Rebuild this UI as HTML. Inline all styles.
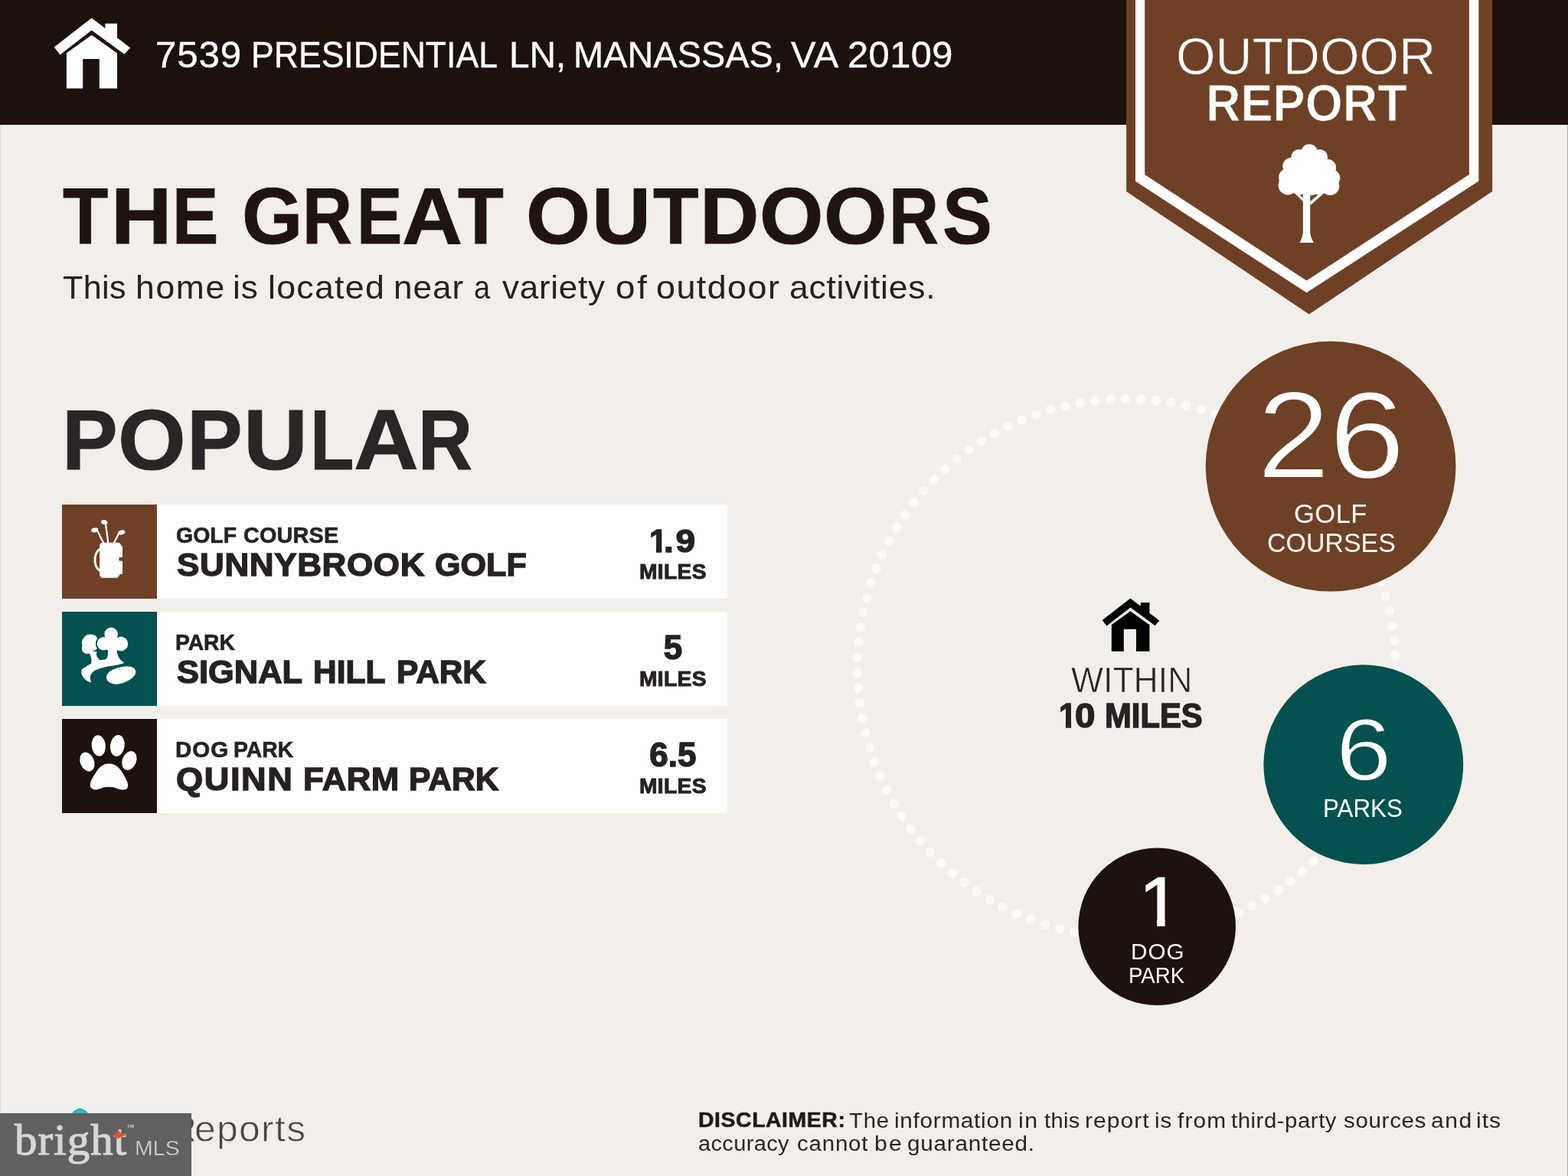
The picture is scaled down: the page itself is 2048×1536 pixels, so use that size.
<!DOCTYPE html>
<html lang="en">
<head>
<meta charset="utf-8">
<title>Outdoor Report - 7539 Presidential Ln, Manassas, VA 20109</title>
<style>
html,body{margin:0;padding:0;}
body{width:2048px;height:1536px;overflow:hidden;background:#f2eee9;font-family:"Liberation Sans",sans-serif;position:relative;}
.page{position:absolute;left:0;top:0;width:2048px;height:1536px;overflow:hidden;background:#f2eee9;}
.t{position:absolute;left:0;margin:0;padding:0;line-height:1;height:1em;width:2048px;white-space:pre;font-weight:400;pointer-events:none;}
.t span{position:absolute;top:0;left:0;transform-origin:0 0;}
.hdr{position:absolute;left:0;top:0;width:2048px;height:163px;background:#1d110d;}
.edge-l{position:absolute;left:0;top:163px;width:1px;height:1373px;background:#e2dcd9;}
.edge-r{position:absolute;right:0;top:163px;width:1px;height:1373px;background:#b3b0ad;}
svg.art{position:absolute;left:0;top:0;width:2048px;height:1536px;}
.row{position:absolute;left:81px;width:869px;height:123.5px;background:#fff;}
.row .ico{position:absolute;left:0;top:0;width:123.5px;height:123.5px;}
.r1{top:658.8px}.r2{top:798.8px}.r3{top:938.8px}
.brown{background:#6e4126}.teal{background:#04514f}.dark{background:#1e120e}
.wm{position:absolute;left:0;top:1454px;width:250px;height:82px;background:#606060;}
</style>
</head>
<body>
<div class="page">

<header class="hdr"></header>
<div class="edge-l"></div><div class="edge-r"></div>

<!-- list panels -->
<section>
<div class="row r1"><div class="ico brown"></div></div>
<div class="row r2"><div class="ico teal"></div></div>
<div class="row r3"><div class="ico dark"></div></div>
</section>

<svg class="art" viewBox="0 0 2048 1536">
  <!-- header house -->
  <g id="house" fill="#fff">
    <path d="M119.7 23.4 L137.4 37.1 L137.4 30.7 L153 30.7 L153 49.2 L170.2 62.5 L162.4 70.8 L119.7 39.6 L78.5 71.4 L70.7 61.5 Z"/>
    <path d="M119.7 45.8 L153 69.6 L153 115.6 L129.8 115.6 L129.8 77.1 L108.2 77.1 L108.2 115.6 L86.9 115.6 L86.9 69.3 Z"/>
  </g>

  <!-- badge -->
  <g id="badge">
    <path d="M1471.1 0 L1471.1 250 L1709.8 410.5 L1949.1 250 L1949.1 0 Z" fill="#6e4126"/>
    <path d="M1483 0 L1483 236.7 L1706.5 382.3 L1931.4 236.5 L1931.4 0 L1918.9 0 L1918.9 228 L1706.5 366.6 L1495.2 228 L1495.2 0 Z" fill="#fff"/>
    <!-- tree -->
    <g fill="#fff" transform="translate(1630,170) scale(0.1041667)">
      <path d="M690 800 L780 800 L780 1290 Q790 1360 825 1410 L648 1410 Q680 1360 690 1290 Z"/>
      <path d="M585 790 L610 770 L720 880 L700 905 Z"/>
      <path d="M900 790 L930 810 L790 935 L770 905 Z"/>
      <circle cx="770" cy="280" r="105"/><circle cx="640" cy="340" r="100"/><circle cx="900" cy="340" r="100"/>
      <circle cx="540" cy="450" r="105"/><circle cx="1000" cy="470" r="105"/>
      <circle cx="490" cy="590" r="105"/><circle cx="1050" cy="600" r="105"/>
      <circle cx="500" cy="690" r="120"/><circle cx="1030" cy="700" r="115"/>
      <circle cx="640" cy="700" r="110"/><circle cx="900" cy="700" r="110"/>
      <circle cx="770" cy="560" r="260"/>
    </g>
  </g>

  <!-- dotted ring -->
  <circle cx="1471.2" cy="872.5" r="351.5" fill="none" stroke="#fcfaf8" stroke-width="12.5" stroke-linecap="round" stroke-dasharray="0 19.8968" transform="rotate(-2.71 1471.2 872.5)"/>

  <!-- stat circles -->
  <circle cx="1738.1" cy="609.2" r="163.4" fill="#6e4126"/>
  <circle cx="1780.8" cy="998.6" r="130.4" fill="#04514f"/>
  <circle cx="1511.2" cy="1210.2" r="102.8" fill="#1e120e"/>

  <!-- centre house -->
  <g fill="#000" transform="translate(1386.6,763.9) scale(0.7505)">
    <path d="M119.7 23.4 L137.4 37.1 L137.4 30.7 L153 30.7 L153 49.2 L170.2 62.5 L162.4 70.8 L119.7 39.6 L78.5 71.4 L70.7 61.5 Z"/>
    <path d="M119.7 45.8 L153 69.6 L153 115.6 L129.8 115.6 L129.8 77.1 L108.2 77.1 L108.2 115.6 L86.9 115.6 L86.9 69.3 Z"/>
  </g>

  <!-- golf icon -->
  <g transform="translate(60,640) scale(0.15625)" fill="#fff" stroke="none">
    <path d="M470 440 H600 Q625 440 628 465 L640 470 V560 L610 565 V590 L640 595 V700 L615 705 Q610 735 580 735 H480 Q450 735 448 700 V480 Q448 440 470 440 Z"/>
    <path d="M455 490 Q405 520 410 600 Q415 650 450 675" fill="none" stroke="#fff" stroke-width="18" stroke-linecap="round"/>
    <g stroke="#fff" stroke-width="14" stroke-linecap="round" fill="none">
      <path d="M520 440 L500 290"/><path d="M480 440 L432 345"/><path d="M570 440 L608 365"/>
    </g>
    <ellipse cx="488" cy="270" rx="28" ry="19" transform="rotate(15 488 270)"/>
    <ellipse cx="408" cy="335" rx="30" ry="19" transform="rotate(-10 408 335)"/>
    <ellipse cx="632" cy="355" rx="30" ry="19" transform="rotate(-15 632 355)"/>
  </g>

  <!-- park icon -->
  <g transform="translate(60,780) scale(0.15625)">
    <g fill="#fff">
      <circle cx="372" cy="383" r="72"/><circle cx="345" cy="428" r="46"/>
      <path d="M352 455 H425 Q410 500 455 528 L372 580 Q398 512 352 455 Z"/>
    </g>
    <g fill="#04514f" stroke="#04514f" stroke-width="24">
      <circle cx="545" cy="308" r="56"/><circle cx="482" cy="388" r="55"/><circle cx="626" cy="390" r="60"/><circle cx="555" cy="390" r="66"/>
    </g>
    <g fill="#fff">
      <circle cx="545" cy="308" r="56"/><circle cx="482" cy="388" r="55"/><circle cx="626" cy="390" r="60"/><circle cx="555" cy="390" r="66"/>
      <path d="M518 440 H592 Q596 520 655 545 Q640 560 560 572 Q470 582 405 615 Q352 652 378 712 Q338 705 312 668 Q290 640 298 605 Q360 558 440 528 L500 520 Q522 500 518 440 Z"/>
      <path d="M505 662 Q518 612 600 590 Q700 562 742 598 Q772 640 702 690 Q622 735 570 726 Q500 712 505 662 Z"/>
    </g>
  </g>

  <!-- paw icon -->
  <g transform="translate(60,920) scale(0.15625)" fill="#fff">
    <ellipse cx="345" cy="480" rx="58" ry="82" transform="rotate(-22 345 480)"/>
    <ellipse cx="440" cy="345" rx="58" ry="88" transform="rotate(-6 440 345)"/>
    <ellipse cx="597" cy="345" rx="60" ry="90" transform="rotate(8 597 345)"/>
    <ellipse cx="697" cy="470" rx="58" ry="82" transform="rotate(22 697 470)"/>
    <path d="M525 495 Q600 495 650 590 Q700 670 680 700 Q655 725 600 705 Q525 675 450 705 Q395 725 375 695 Q355 660 410 580 Q460 495 525 495 Z"/>
  </g>

  <!-- footer logo icon (peeking above watermark) -->
  <path d="M93.6 1458 Q93.4 1452.6 97.5 1450.2 L102 1447.8 Q104.5 1446.6 107 1447.8 L111.5 1450.2 Q115.6 1452.6 115.4 1458 Z" fill="#2fb4be"/>
</svg>

<!-- header text -->
<div class="t" style="top:46.65px;font-size:48.2px;color:#fff;-webkit-text-stroke:0.4px #fff;"><span style="left:203.18px;letter-spacing:0.79px;transform:scaleX(1.0226);">7539</span> <span style="left:328.03px;transform:scaleX(0.9249);">PRESIDENTIAL</span> <span style="left:664.77px;transform:scaleX(0.9923);">LN,</span> <span style="left:749.04px;transform:scaleX(0.9744);">MANASSAS,</span> <span style="left:1033.09px;letter-spacing:0.74px;transform:scaleX(1.0121);">VA</span> <span style="left:1107.35px;letter-spacing:0.43px;transform:scaleX(1.0130);">20109</span></div>
<!-- badge text -->
<div class="t" style="top:38.75px;font-size:69.17px;color:#fff;-webkit-text-stroke:0.8px #6e4126;"><span style="left:1536.27px;transform:scaleX(0.9596);">OUTDOOR</span></div>
<div class="t" style="top:100.87px;font-size:68.78px;color:#fff;font-weight:700;-webkit-text-stroke:1px #6e4126;"><span style="left:1574.82px;transform:scaleX(0.9172);">REPORT</span></div>

<main>
<h1 class="t" style="top:229.94px;font-size:104.36px;color:#1f1410;font-weight:700;-webkit-text-stroke:1px #1f1410;"><span style="left:82.28px;transform:scaleX(0.9286);">T</span><span style="left:144.57px;transform:scaleX(1.0535);">H</span><span style="left:225.48px;transform:scaleX(0.8665);">E</span> <span style="left:315.61px;transform:scaleX(0.9771);">G</span><span style="left:395.21px;transform:scaleX(0.8624);">R</span><span style="left:466.17px;transform:scaleX(0.8530);">E</span><span style="left:525.4px;transform:scaleX(1.0475);">A</span><span style="left:597.87px;transform:scaleX(0.9382);">T</span> <span style="left:687.18px;transform:scaleX(1.0364);">O</span><span style="left:772.51px;transform:scaleX(1.0214);">U</span><span style="left:852.77px;transform:scaleX(0.9318);">T</span><span style="left:914.44px;transform:scaleX(1.0275);">D</span><span style="left:992.21px;transform:scaleX(1.0282);">O</span><span style="left:1076.35px;transform:scaleX(1.0173);">O</span><span style="left:1161.11px;transform:scaleX(0.8624);">R</span><span style="left:1230.56px;transform:scaleX(0.9319);">S</span></h1>
<p class="t" style="top:353.94px;font-size:42.59px;color:#262120;"><span style="left:81.73px;letter-spacing:0.36px;transform:scaleX(1.0137);">This</span> <span style="left:177.31px;letter-spacing:1.6px;transform:scaleX(1.0452);">home</span> <span style="left:304.35px;letter-spacing:0.97px;transform:scaleX(1.0354);">is</span> <span style="left:350.18px;letter-spacing:1.18px;transform:scaleX(1.0512);">located</span> <span style="left:514.07px;letter-spacing:0.97px;transform:scaleX(1.0344);">near</span> <span style="left:618.59px;transform:scaleX(0.8913);">a</span> <span style="left:656.15px;letter-spacing:0.72px;transform:scaleX(1.0333);">variety</span> <span style="left:803.78px;letter-spacing:2.71px;transform:scaleX(1.0741);">of</span> <span style="left:856.71px;letter-spacing:1.36px;transform:scaleX(1.0542);">outdoor</span> <span style="left:1030.51px;letter-spacing:0.76px;transform:scaleX(1.0429);">activities.</span></p>
<h2 class="t" style="top:519.92px;font-size:110.9px;color:#2a2625;font-weight:700;-webkit-text-stroke:1px #2a2625;"><span style="left:81.4px;transform:scaleX(0.9834);">P</span><span style="left:154.34px;transform:scaleX(1.0287);">O</span><span style="left:244.3px;transform:scaleX(0.9834);">P</span><span style="left:317.94px;transform:scaleX(1.0478);">U</span><span style="left:404.65px;transform:scaleX(0.8460);">L</span><span style="left:461.61px;transform:scaleX(1.0569);">A</span><span style="left:545.77px;transform:scaleX(0.8865);">R</span></h2>

<div class="t" style="top:684.67px;font-size:28.57px;color:#262221;font-weight:700;-webkit-text-stroke:0.6px #262221;"><span style="left:229.63px;transform:scaleX(0.9960);">GOLF</span> <span style="left:317.52px;letter-spacing:0.2px;transform:scaleX(1.0082);">COURSE</span></div>
<div class="t" style="top:715.53px;font-size:43.31px;color:#262221;font-weight:700;-webkit-text-stroke:1.4px #262221;"><span style="left:230.54px;letter-spacing:0.6px;transform:scaleX(1.0169);">SUNNYBROOK</span> <span style="left:567.83px;transform:scaleX(0.9957);">GOLF</span></div>
<div class="t" style="top:685.18px;font-size:42.88px;color:#262221;font-weight:700;-webkit-text-stroke:1.4px #262221;"><span style="left:848.01px;transform:scaleX(0.9821);clip-path:polygon(-1em -1em,2em -1em,2em 0.6950em,0.3899em 0.6950em,0.3899em 2em,0.2141em 2em,0.2141em 0.6950em,-1em 0.6950em);">1</span><span style="left:867.23px;letter-spacing:2.58px;transform:scaleX(1.0731);">.9</span></div>
<div class="t" style="top:732.64px;font-size:27.76px;color:#262221;font-weight:700;-webkit-text-stroke:0.9px #262221;"><span style="left:835.37px;letter-spacing:0.34px;transform:scaleX(1.0163);">MILES</span></div>
<div class="t" style="top:824.67px;font-size:28.57px;color:#262221;font-weight:700;-webkit-text-stroke:0.6px #262221;"><span style="left:229.41px;transform:scaleX(0.9879);">PARK</span></div>
<div class="t" style="top:855.53px;font-size:43.31px;color:#262221;font-weight:700;-webkit-text-stroke:1.4px #262221;"><span style="left:230.55px;letter-spacing:0.05px;transform:scaleX(1.0015);">SIGNAL</span> <span style="left:408.84px;transform:scaleX(0.9821);">HILL</span> <span style="left:517.95px;transform:scaleX(0.9790);">PARK</span></div>
<div class="t" style="top:824.13px;font-size:43.9px;color:#262221;font-weight:700;-webkit-text-stroke:1.4px #262221;"><span style="left:866.73px;">5</span></div>
<div class="t" style="top:872.64px;font-size:27.76px;color:#262221;font-weight:700;-webkit-text-stroke:0.9px #262221;"><span style="left:835.37px;letter-spacing:0.34px;transform:scaleX(1.0163);">MILES</span></div>
<div class="t" style="top:964.67px;font-size:28.57px;color:#262221;font-weight:700;-webkit-text-stroke:0.6px #262221;"><span style="left:228.94px;letter-spacing:1.03px;transform:scaleX(1.0322);">DOG</span> <span style="left:304.8px;transform:scaleX(0.9905);">PARK</span></div>
<div class="t" style="top:995.53px;font-size:43.31px;color:#262221;font-weight:700;-webkit-text-stroke:1.4px #262221;"><span style="left:230.18px;letter-spacing:1.52px;transform:scaleX(1.0428);">QUINN</span> <span style="left:395.78px;letter-spacing:0.42px;transform:scaleX(1.0106);">FARM</span> <span style="left:533.74px;transform:scaleX(0.9824);">PARK</span></div>
<div class="t" style="top:964.13px;font-size:43.9px;color:#262221;font-weight:700;-webkit-text-stroke:1.4px #262221;"><span style="left:848.31px;">6.5</span></div>
<div class="t" style="top:1012.64px;font-size:27.76px;color:#262221;font-weight:700;-webkit-text-stroke:0.9px #262221;"><span style="left:835.37px;letter-spacing:0.34px;transform:scaleX(1.0163);">MILES</span></div>

<div class="t" style="top:488.43px;font-size:161.3px;color:#fff;-webkit-text-stroke:2px #6e4126;"><span style="left:1641.55px;transform:scaleX(1.0591);">2</span><span style="left:1735.85px;transform:scaleX(1.1046);">6</span></div>
<div class="t" style="top:654.48px;font-size:34.16px;color:#fff;"><span style="left:1689.66px;letter-spacing:0.4px;transform:scaleX(1.0133);">GOLF</span></div>
<div class="t" style="top:691.68px;font-size:34.16px;color:#fff;"><span style="left:1654.58px;transform:scaleX(0.9937);">COURSES</span></div>
<div class="t" style="top:922.12px;font-size:114.84px;color:#fff;-webkit-text-stroke:1.5px #04514f;"><span style="left:1744.72px;transform:scaleX(1.1360);">6</span></div>
<div class="t" style="top:1039.45px;font-size:33.72px;color:#fff;"><span style="left:1728.43px;transform:scaleX(0.9293);">PARKS</span></div>
<div class="t" style="top:1132.34px;font-size:91.3px;color:#fff;-webkit-text-stroke:1.4px #fff;"><span style="left:1487.99px;transform:scaleX(1.0529);clip-path:polygon(-1em -1em,2em -1em,2em 0.7471em,0.3505em 0.7471em,0.3505em 2em,0.2408em 2em,0.2408em 0.7471em,-1em 0.7471em);">1</span></div>
<div class="t" style="top:1229.23px;font-size:28.78px;color:#fff;"><span style="left:1476.57px;letter-spacing:0.97px;transform:scaleX(1.0308);">DOG</span></div>
<div class="t" style="top:1259.83px;font-size:28.78px;color:#fff;"><span style="left:1473.93px;transform:scaleX(0.9603);">PARK</span></div>
<div class="t" style="top:865.07px;font-size:46.51px;color:#262221;-webkit-text-stroke:0.7px #f2eee9;"><span style="left:1398.57px;transform:scaleX(0.9577);">WITHIN</span></div>
<div class="t" style="top:912.69px;font-size:44.19px;color:#262221;font-weight:700;-webkit-text-stroke:1.4px #262221;"><span style="left:1383.13px;transform:scaleX(0.9350);clip-path:polygon(-1em -1em,2em -1em,2em 0.6964em,0.3894em 0.6964em,0.3894em 2em,0.2146em 2em,0.2146em 0.6964em,-1em 0.6964em);">1</span><span style="left:1403.57px;transform:scaleX(1.0750);">0</span> <span style="left:1442.57px;transform:scaleX(0.9461);">MILES</span></div>
</main>

<footer>
<div class="t" style="top:1451.38px;font-size:47.5px;color:#474443;-webkit-text-stroke:0.8px #f2eee9;"><span style="left:219.2px;transform:scaleX(1.1163);">R</span><span style="left:254.17px;letter-spacing:1.28px;transform:scaleX(1.0478);">eports</span></div>
<div class="t" style="top:1448.97px;font-size:27.62px;color:#1f1a19;font-weight:700;-webkit-text-stroke:0.5px #1f1a19;"><span style="left:911.56px;letter-spacing:0.54px;transform:scaleX(1.0294);">DISCLAIMER:</span></div>
<div class="t" style="top:1448.6px;font-size:28.34px;color:#2a2523;"><span style="left:1108.94px;letter-spacing:0.79px;transform:scaleX(1.0326);">The</span> <span style="left:1168.31px;letter-spacing:0.69px;transform:scaleX(1.0485);">information</span> <span style="left:1330.37px;letter-spacing:1.39px;transform:scaleX(1.0704);">in</span> <span style="left:1363.56px;letter-spacing:0.38px;transform:scaleX(1.0258);">this</span> <span style="left:1417.4px;letter-spacing:0.94px;transform:scaleX(1.0612);">report</span> <span style="left:1508.41px;letter-spacing:0.88px;transform:scaleX(1.0475);">is</span> <span style="left:1537.68px;letter-spacing:1.05px;transform:scaleX(1.0547);">from</span> <span style="left:1608.35px;letter-spacing:0.5px;transform:scaleX(1.0381);">third-party</span> <span style="left:1754.78px;letter-spacing:0.68px;transform:scaleX(1.0400);">sources</span> <span style="left:1868.52px;letter-spacing:1.47px;transform:scaleX(1.0622);">and</span> <span style="left:1927.68px;letter-spacing:0.89px;transform:scaleX(1.0657);">its</span></div>
<div class="t" style="top:1479px;font-size:28.34px;color:#2a2523;"><span style="left:911.97px;letter-spacing:0.37px;transform:scaleX(1.0227);">accuracy</span> <span style="left:1041.15px;letter-spacing:0.73px;transform:scaleX(1.0421);">cannot</span> <span style="left:1141.95px;letter-spacing:1.99px;transform:scaleX(1.0653);">be</span> <span style="left:1184.85px;letter-spacing:0.73px;transform:scaleX(1.0474);">guaranteed.</span></div>
<div class="wm"></div>
<div class="t" style="top:1459.87px;font-size:57px;color:#d6d6d6;font-family:'Liberation Serif', serif;-webkit-text-stroke:1.2px #d6d6d6;"><span style="left:18.62px;letter-spacing:1px;transform:scaleX(1.0351);">bright</span></div>
<div class="t" style="top:1485.03px;font-size:28.2px;color:#d6d6d6;-webkit-text-stroke:0.4px #606060;"><span style="left:176.07px;letter-spacing:0.18px;transform:scaleX(1.0068);">MLS</span></div>
<div class="t" style="top:1468.8px;font-size:5.67px;color:#d6d6d6;font-weight:700;"><span style="left:165.83px;letter-spacing:0.29px;transform:scaleX(1.0356);">TM</span></div>
<svg class="art" viewBox="0 0 2048 1536" style="pointer-events:none">
  <path d="M154.2 1474 Q155.6 1481.6 166.4 1482.9 Q155.6 1484.2 154.2 1488.4 Q152.8 1484.2 145.4 1482.9 Q152.8 1481.6 154.2 1474 Z" fill="#d8552c"/>
</svg>
</footer>

</div>
</body>
</html>
